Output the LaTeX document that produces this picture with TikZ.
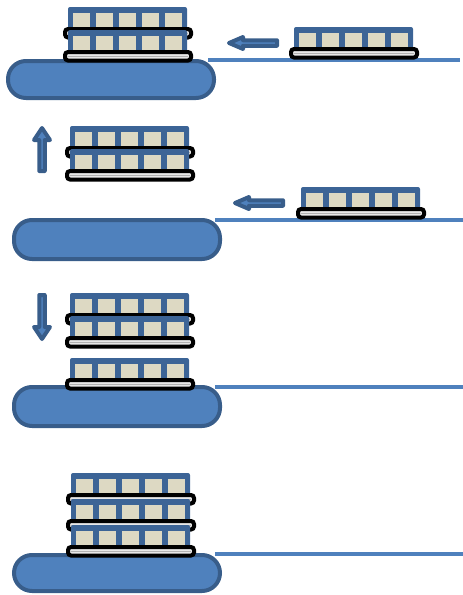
\documentclass[tikz,border=0pt]{standalone}
\usetikzlibrary{calc}
\definecolor{pillblue}{HTML}{4F81BD}
\definecolor{pillborder}{HTML}{385D8A}
\definecolor{crateblue}{HTML}{3C6496}
\definecolor{cellbeige}{HTML}{DDD9C3}
\definecolor{palletin}{HTML}{E8E8E8}
\tikzset{
  pillshape/.style={draw=pillborder, fill=pillblue, line width=4pt, rounded corners=18pt},
  railline/.style={draw=pillblue, line width=3.5pt},
  movearrow/.style={draw=pillborder, fill=pillblue, line width=4pt, line join=round},
  crateunit/.pic={
    \fill[crateblue, rounded corners=2pt] (5,0) rectangle (124,23);
    \foreach \i in {0,...,4} \fill[cellbeige] ({10+23*\i},6) rectangle ++(17,15);
    \draw[black, line width=4pt, fill=palletin, rounded corners=3pt] (2,22) rectangle (128,30.5);
    \draw[gray!60, line width=0.8pt] (5,26.25) -- (125,26.25);
  }
}
\newcommand\leftarrowshape[2]{% tip x, center y
  \path[movearrow] (#1+2,#2) -- (#1+16,#2-6) -- (#1+16,#2-2.75) -- (#1+50,#2-2.75)
    -- (#1+50,#2+2.75) -- (#1+16,#2+2.75) -- (#1+16,#2+6) -- cycle;}
\begin{document}
\begin{tikzpicture}[x=1pt,y=-1pt]
\useasboundingbox (0,0) rectangle (463,595);
% ---------- panel 1
\draw[railline] (208,60) -- (460,60);
\path[pillshape] (8,61) rectangle (214,98);
\pic (p1a) at (63,7) {crateunit};
\pic (p1b) at (63,30) {crateunit};
\pic (p1r) at (289,27) {crateunit};
\leftarrowshape{227}{43}
% ---------- panel 2
\draw[railline] (215,220) -- (463,220);
\path[pillshape] (14,220) rectangle (220,259);
\pic (p2a) at (65,126) {crateunit};
\pic (p2b) at (65,149) {crateunit};
\pic (p2r) at (296,187) {crateunit};
\leftarrowshape{233}{203}
\path[movearrow] (42,128) -- (50,140) -- (44.75,140) -- (44.75,171) -- (39.25,171) -- (39.25,140) -- (34,140) -- cycle;
% ---------- panel 3
\draw[railline] (215,387) -- (463,387);
\path[pillshape] (14,387) rectangle (220,426);
\pic (p3a) at (65,293) {crateunit};
\pic (p3b) at (65,316) {crateunit};
\pic (p3c) at (65,358) {crateunit};
\path[movearrow] (42,339) -- (50,327) -- (44.75,327) -- (44.75,295) -- (39.25,295) -- (39.25,327) -- (34,327) -- cycle;
% ---------- panel 4
\draw[railline] (215,554) -- (463,554);
\path[pillshape] (14,555) rectangle (220,591);
\pic (p4a) at (66,473) {crateunit};
\pic (p4b) at (66,499) {crateunit};
\pic (p4c) at (66,525) {crateunit};
\end{tikzpicture}
\end{document}
